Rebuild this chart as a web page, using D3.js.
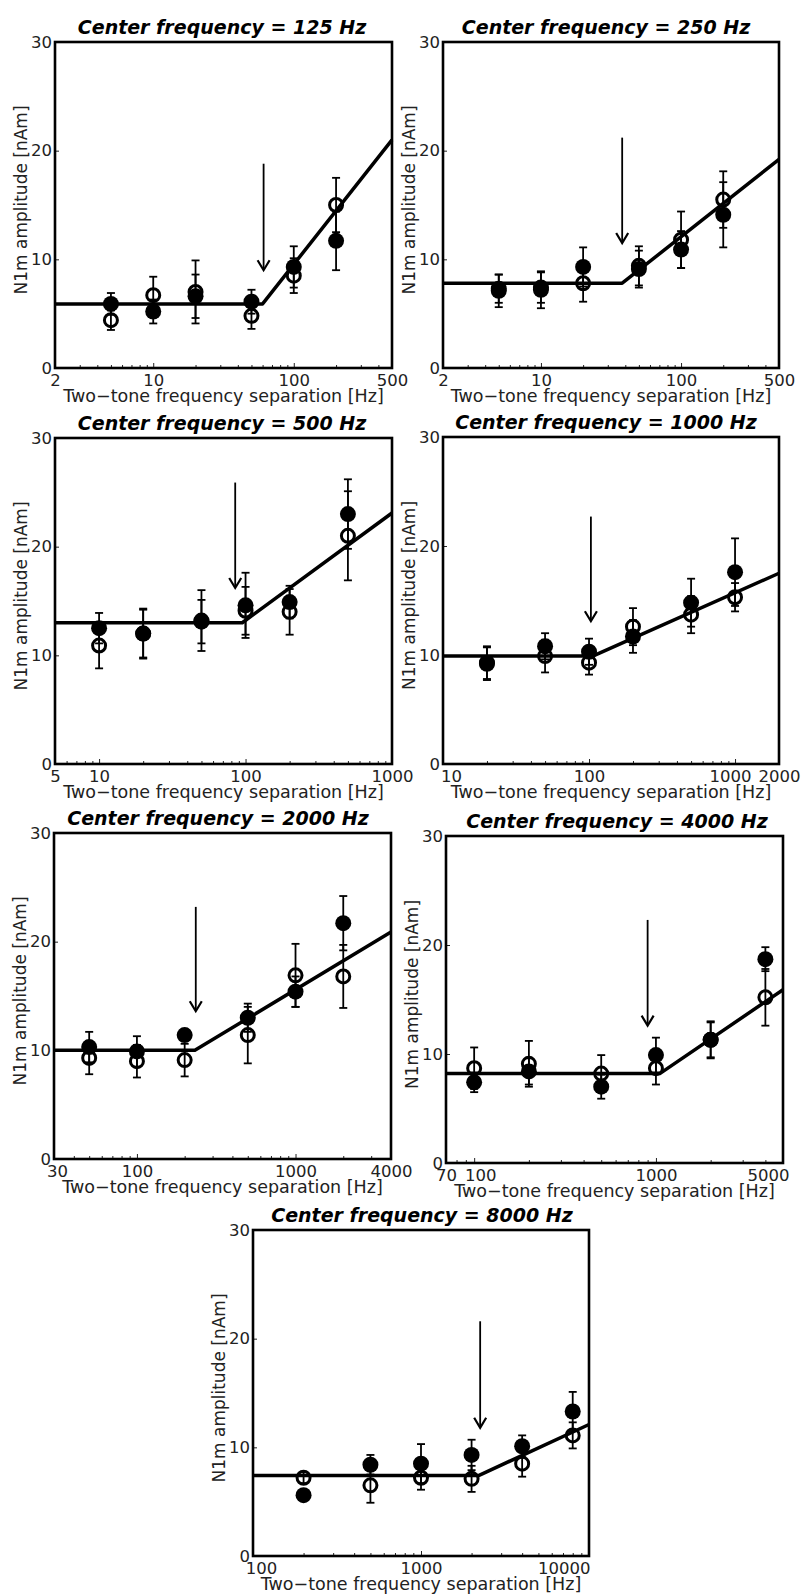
<!DOCTYPE html>
<html><head><meta charset="utf-8">
<script src="https://cdn.jsdelivr.net/npm/d3@7"></script>
<style>body{margin:0;background:#fff}</style>
</head><body>
<svg id="c" width="801" height="1594"></svg>
<script>
// ---- data ----
const centerFreqs = [125, 250, 500, 1000, 2000, 4000, 8000];
const xDomains = [[2,500],[2,500],[5,1000],[10,2000],[30,4000],[70,5000],[100,10000]];
const xTickLabels = [[2,10,100,500],[2,10,100,500],[5,10,100,1000],[10,100,1000,2000],[30,100,1000,4000],[70,100,1000,5000],[100,1000,10000]];
const yTickValues = [0,10,20,30];
const separations = [
  [5,10,20,50,100,200],
  [5,10,20,50,100,200],
  [10,20,50,100,200,500],
  [20,50,100,200,500,1000],
  [50,100,200,500,1000,2000],
  [100,200,500,1000,2000,4000],
  [200,500,1000,2000,4000,8000]
];
const filledMean = [
  [5.9, 5.2, 6.6, 6.1, 9.3, 11.7],
  [7.1, 7.2, 9.3, 9.1, 10.9, 14.1],
  [12.5, 12.0, 13.1, 14.6, 14.9, 23.0],
  [9.2, 10.8, 10.3, 11.7, 14.8, 17.6],
  [10.3, 9.9, 11.4, 13.0, 15.4, 21.7],
  [7.4, 8.4, 7.0, 9.9, 11.3, 18.7],
  [5.6, 8.4, 8.5, 9.3, 10.1, 13.3]
];
const filledErr = [
  [1.0, 1.1, 2.0, 1.1, 1.9, 2.7],
  [1.5, 1.7, 1.8, 1.7, 1.7, 3.0],
  [1.4, 2.2, 2.0, 3.0, 1.5, 3.2],
  [1.5, 1.2, 1.2, 1.5, 2.2, 3.1],
  [1.4, 1.4, 0.5, 1.3, 1.4, 2.5],
  [0.9, 1.2, 1.1, 1.6, 1.6, 1.1],
  [0.4, 0.9, 1.8, 1.4, 1.0, 1.8]
];
const openMean = [
  [4.4, 6.7, 7.0, 4.8, 8.5, 15.0],
  [7.3, 7.4, 7.8, 9.4, 11.8, 15.5],
  [10.9, 12.0, 13.2, 14.1, 14.0, 21.0],
  [9.3, 9.9, 9.3, 12.6, 13.7, 15.3],
  [9.3, 9.0, 9.1, 11.4, 16.9, 16.8],
  [8.7, 9.1, 8.2, 8.7, 11.3, 15.2],
  [7.2, 6.5, 7.2, 7.1, 8.5, 11.1]
];
const openErr = [
  [0.9, 1.7, 2.9, 1.2, 1.6, 2.5],
  [1.3, 1.4, 1.7, 1.8, 2.6, 2.6],
  [2.1, 2.3, 2.8, 2.2, 2.1, 4.1],
  [1.5, 1.5, 1.1, 1.7, 1.7, 1.3],
  [1.5, 1.5, 1.5, 2.6, 2.9, 2.9],
  [1.9, 2.1, 1.7, 1.5, 1.7, 2.6],
  [0.5, 1.6, 1.1, 1.2, 1.2, 1.2]
];
const fitFlat  = [5.9, 7.8, 13.0, 9.9, 10.0, 8.2, 7.4];
const fitBreak = [60, 38, 95, 106, 232, 1050, 2200];
const fitEnd   = [21.0, 19.2, 23.1, 17.5, 20.9, 15.9, 12.1];
const arrowX   = [61, 38, 85, 103, 235, 900, 2250];
const arrowTop = [18.8, 21.2, 25.9, 22.7, 23.2, 22.3, 21.6];
const arrowTip = [9.0, 11.5, 16.2, 13.1, 13.6, 12.6, 11.8];

// ---- layout ----
const boxes = [
  {l:55, t:42, w:337, h:326, tx:222},
  {l:443, t:42, w:336, h:326, tx:606},
  {l:55, t:438, w:337, h:326, tx:222},
  {l:443, t:437, w:336, h:327, tx:606},
  {l:54, t:833, w:337, h:326, tx:218},
  {l:446, t:836, w:337, h:327, tx:617},
  {l:253, t:1230, w:336, h:326, tx:422}
];
// per-panel label nudges [panel, tick value, dx, anchor]
const labelNudges = [
  [3, 10, 8, 'middle'], [3, 1000, -5, 'middle'],
  [4, 30, 3, 'middle'],
  [5, 100, 6, 'middle'], [5, 5000, 6, 'end'],
  [6, 100, 8, 'middle'], [6, 10000, 1, 'end']
];
const FONT = "'DejaVu Sans', Verdana, sans-serif";
const svg = d3.select('#c');

boxes.forEach((b, i) => {
  const g = svg.append('g');
  const x = d3.scaleLog().domain(xDomains[i]).range([b.l, b.l + b.w]);
  const y = d3.scaleLinear().domain([0, 30]).range([b.t + b.h, b.t]);
  const labels = xTickLabels[i];

  // x axis (inward ticks)
  const ax = d3.axisBottom(x).tickValues(x.ticks()).tickSizeInner(-3).tickSizeOuter(0).tickPadding(6)
    .tickFormat(d => labels.some(v => Math.abs(v - d) < 1e-6) ? String(d) : '');
  const gx = g.append('g').attr('transform', `translate(0,${b.t + b.h})`).call(ax)
    .attr('font-family', FONT).attr('font-size', 16.5);
  gx.select('.domain').remove();
  gx.selectAll('.tick line').attr('stroke', '#222').attr('stroke-width', 1)
    .attr('y2', d => Math.abs(Math.log10(d) - Math.round(Math.log10(d))) < 1e-9 ? -5 : -3);
  gx.selectAll('.tick text').attr('fill', '#222');
  labelNudges.filter(n => n[0] === i).forEach(n => {
    gx.selectAll('.tick text').filter(d => Math.abs(d - n[1]) < 1e-6)
      .attr('dx', n[2]).attr('text-anchor', n[3]);
  });

  // y axis
  const ay = d3.axisLeft(y).tickValues(yTickValues).tickSizeInner(-4).tickSizeOuter(0).tickPadding(3);
  const gy = g.append('g').attr('transform', `translate(${b.l},0)`).call(ay)
    .attr('font-family', FONT).attr('font-size', 16.5);
  gy.select('.domain').remove();
  gy.selectAll('.tick line').attr('stroke', '#222').attr('stroke-width', 1);
  gy.selectAll('.tick text').attr('fill', '#222');

  // frame
  g.append('rect').attr('x', b.l).attr('y', b.t).attr('width', b.w).attr('height', b.h)
    .attr('fill', 'none').attr('stroke', '#000').attr('stroke-width', 2.6);

  // title
  g.append('text').attr('x', b.tx).attr('y', b.t - 8).attr('text-anchor', 'middle')
    .attr('font-family', FONT).attr('font-weight', 'bold').attr('font-style', 'italic')
    .attr('font-size', 19).attr('fill', '#000')
    .text(`Center frequency = ${centerFreqs[i]} Hz`);

  // axis labels
  g.append('text').attr('x', b.l + b.w / 2).attr('y', b.t + b.h + 34).attr('text-anchor', 'middle')
    .attr('font-family', FONT).attr('font-size', 17.5).attr('fill', '#222')
    .text('Two\u2212tone frequency separation [Hz]');
  g.append('text').attr('transform', `translate(${b.l - 28},${b.t + b.h / 2 - 5}) rotate(-90)`)
    .attr('text-anchor', 'middle').attr('font-family', FONT).attr('font-size', 17).attr('fill', '#222')
    .text('N1m amplitude [nAm]');

  // fit line
  const fitPts = [[xDomains[i][0], fitFlat[i]], [fitBreak[i], fitFlat[i]], [xDomains[i][1], fitEnd[i]]];
  g.append('path').attr('d', d3.line().x(d => x(d[0])).y(d => y(d[1]))(fitPts))
    .attr('fill', 'none').attr('stroke', '#000').attr('stroke-width', 3.5).attr('stroke-linejoin', 'round');

  // arrow
  const axp = x(arrowX[i]), ay1 = y(arrowTop[i]), ay2 = y(arrowTip[i]);
  g.append('line').attr('x1', axp).attr('x2', axp).attr('y1', ay1).attr('y2', ay2 - 1)
    .attr('stroke', '#000').attr('stroke-width', 1.8);
  g.append('path').attr('d', `M${axp - 6},${ay2 - 10}L${axp},${ay2}L${axp + 6},${ay2 - 10}`)
    .attr('fill', 'none').attr('stroke', '#000').attr('stroke-width', 2.2);

  // error bars
  const series = [
    {m: filledMean[i], e: filledErr[i]},
    {m: openMean[i], e: openErr[i]}
  ];
  series.forEach(s => {
    separations[i].forEach((xv, j) => {
      const cx = x(xv), lo = y(s.m[j] - s.e[j]), hi = y(s.m[j] + s.e[j]);
      g.append('line').attr('x1', cx).attr('x2', cx).attr('y1', lo).attr('y2', hi)
        .attr('stroke', '#000').attr('stroke-width', 1.8);
      [lo, hi].forEach(yy => g.append('line').attr('x1', cx - 4).attr('x2', cx + 4)
        .attr('y1', yy).attr('y2', yy).attr('stroke', '#000').attr('stroke-width', 1.8));
    });
  });

  // markers
  g.selectAll(null).data(separations[i].map((xv, j) => [xv, filledMean[i][j]])).join('circle')
    .attr('cx', d => x(d[0])).attr('cy', d => y(d[1])).attr('r', 8).attr('fill', '#000');
  g.selectAll(null).data(separations[i].map((xv, j) => [xv, openMean[i][j]])).join('circle')
    .attr('cx', d => x(d[0])).attr('cy', d => y(d[1])).attr('r', 6.5)
    .attr('fill', 'none').attr('stroke', '#000').attr('stroke-width', 3);
});
</script>
</body></html>
